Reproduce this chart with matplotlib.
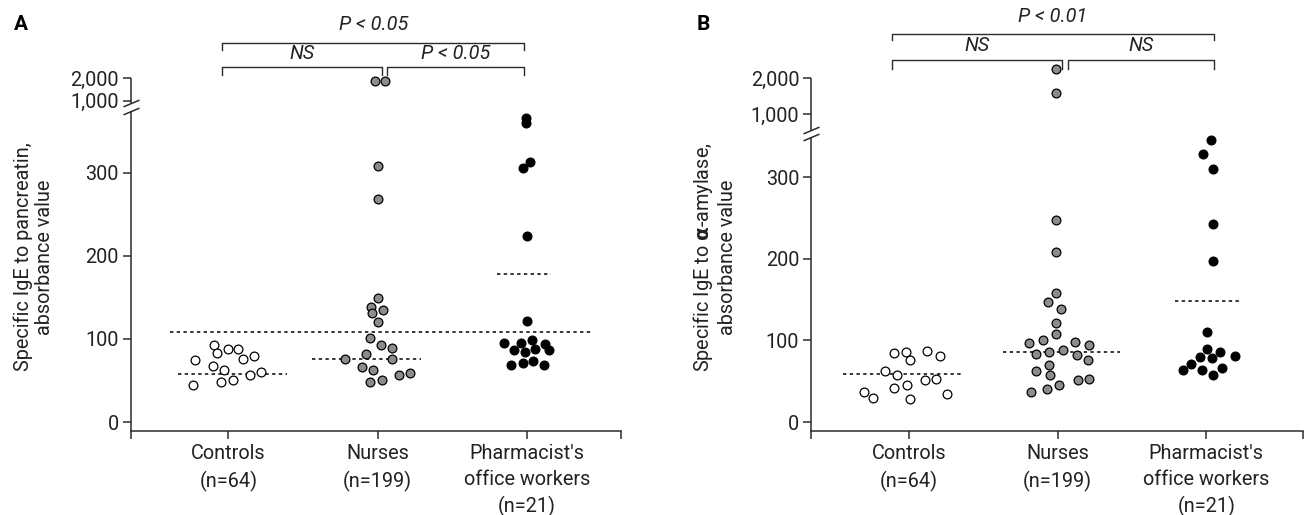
import numpy as np
import matplotlib.pyplot as plt

plt.rcParams['font.family'] = ['Roboto', 'DejaVu Sans']
plt.rcParams['mathtext.fontset'] = 'dejavusans'

# Categories / tick labels
categories = ["Controls\n(n=64)", "Nurses\n(n=199)", "Pharmacist's\noffice workers\n(n=21)"]

# Panel A: specific IgE to pancreatin (values, horizontal swarm offset in px)
a_ctrl_val = [92.7, 83, 87.8, 88.2, 75, 75.4, 79.4, 67, 62.6, 59.8, 56.2, 50.5, 47.7, 44.5]
a_ctrl_dx = [-14.3, -11, -0.6, 9.7, -33, 14.4, 25.4, -15.6, -4.3, 32.4, 22, 4.7, -7.3, -35.6]
a_nurse_val = [1900, 1900, 307.7, 268.3, 149, 139, 131.6, 134.8, 120, 101, 92.7, 89.4, 81.8,
               75.4, 75.4, 66.6, 62.2, 51, 47.7, 56.2, 58.6]
a_nurse_dx = [-2.5, 7, 0, 0, 0, -6.6, -5.3, 5.4, 0, -8, 3.4, 14.7, -11.6,
              -33, 14.4, -16, -4.6, 4.7, -8, 21.7, 32]
a_pharm_val = [366, 359.5, 313.3, 306, 223.4, 122, 95.5, 95.5, 98.7, 94.3, 86.6, 84.2, 88.2,
               86.6, 69, 71, 73.8, 69]
a_pharm_dx = [-1, -1, 3, -4.4, -0.4, -0.4, -22.7, -6, 4.6, 17.6, -13.4, -2, 8.3,
              22.3, -15.7, -4.4, 6, 17.3]
a_group_lines = [57.8, 76.2, 178]
a_overall_line = 108.7

# Panel B: specific IgE to alpha-amylase
b_ctrl_val = [84.4, 86, 76.2, 86.5, 80.7, 63.1, 57.4, 51.6, 52.9, 41.4, 45.1, 36.9, 29.5, 27.9, 34]
b_ctrl_dx = [-15, -3.3, 0.7, 17.7, 31, -24.3, -12, 16.3, 27, -15.3, -2.3, -45.3, -35.7, 0.7, 38]
b_nurse_val = [2250, 1600, 247.5, 208.6, 157.8, 146.7, 138.5, 121.3, 108.2, 96.7, 100, 98.4, 94.3,
               84, 85.7, 88.9, 82, 75.8, 70.5, 62.7, 57.4, 45.1, 41, 37.3, 51.6, 52.9]
b_nurse_dx = [-1.3, -1.3, -1.6, -1.6, -1.6, -10, 3.7, -1.6, -1.6, -29, -14.3, 17, 31,
              -22, -8.3, 5.7, 19.4, 30, -8.3, -21.3, -7.6, 1.4, -11, -27, 20.4, 31.4]
b_pharm_val = [345.7, 329, 310, 243, 197.5, 110.6, 89, 79.5, 85.7, 71.3, 77.9, 80.7,
               63.5, 63.5, 66.8, 57.8]
b_pharm_dx = [5, -3.4, 6.6, 6.6, 6.6, 0.6, 0.6, -6.7, 13.3, -15, 5.6, 28.3,
              -23.7, -4.4, 15.3, 6.6]
b_group_lines = [59, 85.7, 148.4]

ytick_vals = [0, 100, 200, 300, 1000, 2000]
ytick_labels = ["0", "100", "200", "300", "1,000", "2,000"]

W, H = 1309, 515
PX = 149.0  # px per category step
INK = '#2b2b2b'
TXT = '#222222'
FS = 14.3
fills = ['white', '#8c8c8c', 'black']


def box(l, r, top, bottom):
    return [l / W, 1 - bottom / H, (r - l) / W, (bottom - top) / H]


def make_scale(low_top, f1000, f2000):
    xs = [-1e5, low_top, 1000, 2000, 1e5]
    ys = [-1e5, low_top, f1000, f2000, f2000 + (f2000 - f1000) * 98]
    fwd = lambda v: np.interp(v, xs, ys)
    inv = lambda v: np.interp(v, ys, xs)
    return fwd, inv


fig = plt.figure(figsize=(13.09, 5.15), dpi=100)
axA = fig.add_axes(box(130.7, 621, 78.3, 431))
axB = fig.add_axes(box(811, 1303, 78.3, 431))


def setup(ax, scale, ybottom, xlim, upper_from, lower_to, slashes):
    ax.set_yscale('function', functions=scale)
    ax.set_ylim(ybottom, 2000)
    ax.set_xlim(*xlim)
    for s in ['top', 'right', 'left']:
        ax.spines[s].set_visible(False)
    ax.spines['bottom'].set_color(INK)
    ax.spines['bottom'].set_linewidth(1.1)
    ax.set_yticks(ytick_vals)
    ax.set_yticklabels(ytick_labels)
    ax.yaxis.set_minor_locator(plt.NullLocator())
    ax.set_xticks([0, 1, 2])
    ax.set_xticklabels(categories)
    for lab in ax.get_xticklabels():
        lab.set_linespacing(1.45)
    ax.set_xticks(list(xlim), minor=True)
    ax.tick_params(axis='both', which='both', direction='out', length=5.5, width=1.1,
                   color=INK, labelcolor=TXT, labelsize=FS)
    ax.tick_params(axis='x', pad=4)
    ax.tick_params(axis='y', pad=3)
    yt = ax.get_yaxis_transform()
    ax.plot([0, 0], [ybottom, lower_to], transform=yt, color=INK, lw=1.1,
            clip_on=False, solid_capstyle='butt')
    ax.plot([0, 0], [upper_from, 2000], transform=yt, color=INK, lw=1.1,
            clip_on=False, solid_capstyle='butt')
    ax.plot([0] * len(slashes), slashes, transform=yt, linestyle='none',
            marker=[(-1, -0.42), (1, 0.42)], markersize=11.5, mew=1.1, mec=INK,
            clip_on=False)


def swarm(ax, vals_list, dx_list):
    for i, (vals, dxs) in enumerate(zip(vals_list, dx_list)):
        x = i + np.array(dxs) / PX
        ax.scatter(x, vals, s=40, facecolor=fills[i], edgecolor='black',
                   linewidth=0.9, zorder=3, clip_on=False)


def hline(ax, y, x0, x1):
    ax.plot([x0, x1], [y, y], color='black', lw=1.1, linestyle=(0, (2.2, 2.2)), zorder=2)


def bracket(ax, x0, x1, y, drop, text, ty):
    t = ax.get_xaxis_transform()
    ax.plot([x0, x0, x1, x1], [y - drop, y, y, y - drop], transform=t, color=INK,
            lw=1.0, clip_on=False)
    ax.text((x0 + x1) / 2, ty, text, transform=t, ha='center', va='center',
            fontsize=FS, style='italic', color=TXT)


# ---- Panel A ----
setup(axA, make_scale(372, 386.6, 413.6), -10.8, (-0.655, 2.63), 884, 484, [884, 484])
swarm(axA, [a_ctrl_val, a_nurse_val, a_pharm_val], [a_ctrl_dx, a_nurse_dx, a_pharm_dx])
hline(axA, a_overall_line, -0.39, 2.43)
hline(axA, a_group_lines[0], -0.34, 0.39)
hline(axA, a_group_lines[1], 1 - 0.44, 1 + 0.29)
hline(axA, a_group_lines[2], 2 - 0.2, 2 + 0.16)
bracket(axA, -0.04, 1.98, 1.101, 0.021, "P < 0.05", 1.152)
bracket(axA, -0.04, 1.03, 1.032, 0.023, "NS", 1.07)
bracket(axA, 1.065, 1.98, 1.032, 0.023, "P < 0.05", 1.07)

# ---- Panel B ----
setup(axB, make_scale(347, 377.2, 421.4), -11, (-0.658, 2.65), 585, 390, [585, 390])
swarm(axB, [b_ctrl_val, b_nurse_val, b_pharm_val], [b_ctrl_dx, b_nurse_dx, b_pharm_dx])
hline(axB, b_group_lines[0], -0.44, 0.36)
hline(axB, b_group_lines[1], 1 - 0.37, 1 + 0.42)
hline(axB, b_group_lines[2], 2 - 0.21, 2 + 0.22)
bracket(axB, -0.114, 2.05, 1.126, 0.018, "P < 0.01", 1.176)
bracket(axB, -0.114, 1.03, 1.053, 0.027, "NS", 1.093)
bracket(axB, 1.07, 2.05, 1.053, 0.027, "NS", 1.093)

# titles and y labels
fig.text(21 / W, 1 - 24 / H, "A", fontsize=15, fontweight='bold', ha='center', va='center')
fig.text(703 / W, 1 - 24 / H, "B", fontsize=15, fontweight='bold', ha='center', va='center')
fig.text(34 / W, 1 - 257 / H, "Specific IgE to pancreatin,\nabsorbance value", rotation=90,
         ha='center', va='center', multialignment='center', fontsize=FS, color=TXT,
         linespacing=1.15)
fig.text(714 / W, 1 - 257 / H, "Specific IgE to $\\mathbf{\\alpha}$-amylase,\nabsorbance value",
         rotation=90, ha='center', va='center', multialignment='center', fontsize=FS,
         color=TXT, linespacing=1.15)

fig.savefig("out.png", dpi=100)
